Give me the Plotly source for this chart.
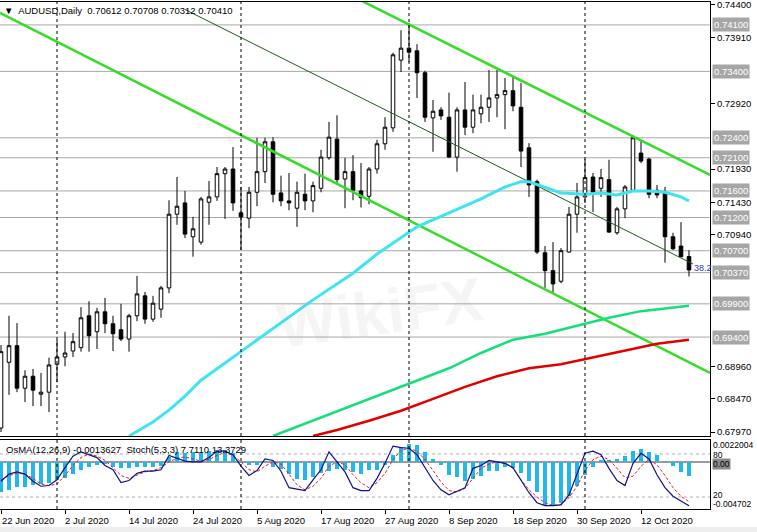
import plotly.graph_objects as go

# ---------------- data ----------------
bar_index = list(range(87))
opens = [0.6803,0.6902,0.6927,0.6863,0.6881,0.6854,0.6857,0.6899,0.6910,0.6919,
         0.6924,0.6972,0.6948,0.6978,0.6960,0.6951,0.6937,0.6972,0.7002,0.6967,
         0.6982,0.7014,0.7125,0.7142,0.7091,0.7083,0.7143,0.7151,0.7186,0.7193,
         0.7127,0.7119,0.7158,0.7189,0.7234,0.7157,0.7145,0.7134,0.7155,0.7145,
         0.7164,0.7210,0.7238,0.7178,0.7189,0.7160,0.7152,0.7193,0.7231,0.7255,
         0.7357,0.7375,0.7371,0.7338,0.7270,0.7282,0.7271,0.7211,0.7282,0.7256,
         0.7276,0.7286,0.7300,0.7305,0.7311,0.7286,0.7225,0.7174,0.7067,0.7040,
         0.7024,0.7068,0.7125,0.7151,0.7181,0.7164,0.7177,0.7097,0.7133,0.7161,
         0.7217,0.7208,0.7161,0.7158,0.7091,0.7077,0.70612]
highs = [0.6928,0.6972,0.6961,0.6890,0.6892,0.6886,0.6909,0.6936,0.6948,0.6946,
         0.6985,0.6994,0.6984,0.6999,0.6972,0.6990,0.6975,0.7032,0.7008,0.7002,
         0.7017,0.7146,0.7181,0.7160,0.7121,0.7151,0.7175,0.7196,0.7196,0.7226,
         0.7166,0.7166,0.7240,0.7240,0.7241,0.7183,0.7187,0.7174,0.7186,0.7174,
         0.7222,0.7264,0.7274,0.7210,0.7214,0.7202,0.7196,0.7237,0.7271,0.7368,
         0.7402,0.7413,0.7381,0.7341,0.7297,0.7286,0.7308,0.7286,0.7324,0.7305,
         0.7305,0.7342,0.7342,0.7330,0.7332,0.7323,0.7232,0.7177,0.7077,0.7083,
         0.7074,0.7136,0.7172,0.7208,0.7187,0.7193,0.7207,0.7136,0.7169,0.7244,
         0.7235,0.7210,0.7169,0.7166,0.7097,0.7113,0.70708]
lows = [0.6797,0.6853,0.6857,0.6842,0.6836,0.6836,0.6827,0.6872,0.6896,0.6910,
        0.6918,0.6918,0.6922,0.6946,0.6919,0.6934,0.6918,0.6964,0.6960,0.6963,
        0.6969,0.7006,0.7109,0.7089,0.7061,0.7079,0.7109,0.7145,0.7118,0.7130,
        0.7071,0.7104,0.7137,0.7172,0.7143,0.7137,0.7131,0.7106,0.7131,0.7128,
        0.7158,0.7207,0.7169,0.7134,0.7146,0.7135,0.7140,0.7186,0.7222,0.7249,
        0.7339,0.7354,0.7300,0.7264,0.7219,0.7267,0.7210,0.7189,0.7244,0.7247,
        0.7262,0.7264,0.7271,0.7253,0.7280,0.7196,0.7151,0.7065,0.7014,0.7006,
        0.7021,0.7067,0.7097,0.7142,0.7128,0.7151,0.7097,0.7094,0.7119,0.7161,
        0.7202,0.7149,0.7149,0.7052,0.7071,0.7060,0.70312]
closes = [0.6918,0.6927,0.6863,0.6881,0.6860,0.6857,0.6898,0.6910,0.6916,0.6933,
          0.6969,0.6942,0.6978,0.6960,0.6945,0.6937,0.6972,0.7005,0.6967,0.6991,
          0.7014,0.7125,0.7137,0.7095,0.7103,0.7148,0.7151,0.7186,0.7193,0.7142,
          0.7121,0.7158,0.7189,0.7234,0.7155,0.7145,0.7142,0.7158,0.7145,0.7168,
          0.7211,0.7241,0.7177,0.7189,0.7161,0.7150,0.7193,0.7231,0.7256,0.7365,
          0.7375,0.7369,0.7338,0.7271,0.7280,0.7273,0.7211,0.7282,0.7256,0.7282,
          0.7286,0.7300,0.7305,0.7311,0.7288,0.7220,0.7169,0.7068,0.7040,0.7020,
          0.7070,0.7125,0.7151,0.7180,0.7158,0.7180,0.7098,0.7133,0.7166,0.7240,
          0.7205,0.7155,0.7154,0.7091,0.7073,0.7061,0.70410]

# moving averages, read at sampled bars
ma_fast_k = [16,19,21,23,25,30,34,39,44,47,52,55,60,63,65,66,68,70,73,75,77,79,81,83,85,86]
ma_fast_v = [0.6791,0.6812,0.6830,0.6851,0.6875,0.6918,0.6952,0.6996,0.7036,0.7065,
             0.7106,0.7122,0.7148,0.7166,0.7174,0.7174,0.7166,0.7157,0.7155,0.7157,
             0.7154,0.7160,0.7160,0.7158,0.7151,0.7145]
ma_mid_k = [34,37,41,45,49,52,56,60,64,68,72,76,80,84,86]
ma_mid_v = [0.6791,0.6805,0.6823,0.6842,0.6860,0.6874,0.6893,0.6916,0.6936,0.6945,
            0.6957,0.6969,0.6979,0.6985,0.6987]
ma_slow_k = [39,42,46,50,54,58,62,66,70,74,78,82,86]
ma_slow_v = [0.6791,0.6800,0.6814,0.6829,0.6847,0.6865,0.6881,0.6893,0.6899,0.6909,
             0.6919,0.6930,0.6936]

# trend / channel lines (two anchor points each: bar index, price)
chan_upper_k = [44.0, 88.625]
chan_upper_p = [0.74528, 0.71840]
chan_lower_k = [-0.125, 88.625]
chan_lower_p = [0.74280, 0.68859]
trend_mid_k = [23.0, 86.5]
trend_mid_p = [0.74332, 0.70500]

level_prices = [0.7410, 0.7340, 0.7240, 0.7210, 0.7160, 0.7120, 0.7070, 0.7037, 0.6990, 0.6940]
scale_prices = [0.7440, 0.7391, 0.7292, 0.7193, 0.7143, 0.7094, 0.6896, 0.6847, 0.6797]
separator_bars = [7, 30, 51, 73]
date_tick_bars = [0, 8, 16, 24, 32, 40, 48, 56, 64, 72, 80]
date_tick_labels = ["22 Jun 2020", "2 Jul 2020", "14 Jul 2020", "24 Jul 2020", "5 Aug 2020",
                    "17 Aug 2020", "27 Aug 2020", "8 Sep 2020", "18 Sep 2020", "30 Sep 2020",
                    "12 Oct 2020"]

osma = [-0.0030,-0.0028,-0.0025,-0.0025,-0.0023,-0.0022,-0.0021,-0.0018,-0.0016,-0.0012,
        -0.0008,-0.0005,-0.0003,-0.0002,-0.0005,-0.0006,-0.0006,-0.0005,-0.0005,-0.0005,
        -0.0004,0.0005,0.0010,0.0009,0.0010,0.0009,0.0011,0.0012,0.0012,0.0009,
        -0.0001,-0.0003,-0.0003,0.0001,-0.0005,-0.0007,-0.0012,-0.0017,-0.0018,-0.0015,
        -0.0011,-0.0009,-0.0007,-0.0008,-0.0010,-0.0012,-0.0008,-0.0008,-0.0003,0.0007,
        0.0015,0.0018,0.0017,0.0010,0.0003,-0.0003,-0.0013,-0.0015,-0.0019,-0.0017,
        -0.0014,-0.0009,-0.0009,-0.0005,-0.0006,-0.0011,-0.0019,-0.0030,-0.0043,-0.0044,
        -0.0041,-0.0034,-0.0024,-0.0013,-0.0005,0.0002,0.0002,0.0003,0.0006,0.0011,
        0.0013,0.0010,0.0007,0.0001,-0.0004,-0.0010,-0.0013627]
stoch_main = [42,52,55,52,42,35,36,44,61,77, 83,79,75,64,58,40,43,53,56,56,
              58,78,74,70,69,69,75,84,84,79, 63,50,57,73,71,56,33,31,29,44,
              58,83,69,55,33,29,29,46,67,91, 89,88,79,60,43,30,23,28,33,60,
              64,71,69,67,61,44,26,12,8,8, 9,23,53,81,84,79,60,43,36,67,
              81,73,51,33,21,14,7.711]
stoch_signal = [44,50,53,52,46,38,36,38,50,64, 75,80,77,71,61,50,46,50,55,57,
                61,69,74,76,73,70,72,78,82,78, 69,58,55,63,69,66,52,37,30,35,
                46,63,69,65,51,40,33,40,53,72, 85,88,84,72,57,41,29,27,32,46,
                60,66,69,67,60,44,30,20,12,8, 10,19,35,57,72,77,72,60,47,49,
                63,72,65,50,33,21,13.3729]
stoch_levels = [80, 20]

# ---------------- figure ----------------
W, H = 757, 532
FONT = "Liberation Sans, Arial, sans-serif"
px_x = lambda p: p / W
px_y = lambda p: 1 - p / H
XR = [-0.125, 88.625]

fig = go.Figure()

fig.add_trace(go.Candlestick(
    x=bar_index, open=opens, high=highs, low=lows, close=closes,
    increasing=dict(line=dict(color="black", width=1), fillcolor="white"),
    decreasing=dict(line=dict(color="black", width=1), fillcolor="black"),
    whiskerwidth=0, showlegend=False, hoverinfo="skip",
    xaxis="x", yaxis="y"))

line_specs = [
    (chan_lower_k, chan_lower_p, "#36DC2A", 2.5),
    (chan_upper_k, chan_upper_p, "#36DC2A", 2.5),
    (trend_mid_k, trend_mid_p, "#1E5A1E", 1),
    (ma_fast_k, ma_fast_v, "#3EE4F2", 3),
    (ma_mid_k, ma_mid_v, "#14E07A", 2.5),
    (ma_slow_k, ma_slow_v, "#E00000", 2.5),
]
for xs, ys, col, w in line_specs:
    fig.add_trace(go.Scatter(x=xs, y=ys, mode="lines", line=dict(color=col, width=w),
                             showlegend=False, hoverinfo="skip", xaxis="x", yaxis="y"))

# indicator panel
fig.add_trace(go.Bar(x=bar_index, y=osma, marker=dict(color="#22B6EA", line=dict(width=0)),
                     width=0.42, showlegend=False, hoverinfo="skip", xaxis="x2", yaxis="y3"))
fig.add_trace(go.Scatter(x=bar_index, y=stoch_signal, mode="lines",
                         line=dict(color="#E02020", width=1, dash="3px,2px"),
                         showlegend=False, hoverinfo="skip", xaxis="x2", yaxis="y4"))
fig.add_trace(go.Scatter(x=bar_index, y=stoch_main, mode="lines",
                         line=dict(color="#10108C", width=1.2),
                         showlegend=False, hoverinfo="skip", xaxis="x2", yaxis="y4"))

shapes = []
for lv in level_prices:
    shapes.append(dict(type="line", xref="x domain", yref="y", x0=0, x1=1, y0=lv, y1=lv,
                       line=dict(color="#A8A8A8", width=1), layer="below"))
for b in separator_bars:
    for yr in ("y domain", "y3 domain"):
        shapes.append(dict(type="line", xref="x", yref=yr, x0=b, x1=b, y0=0, y1=1,
                           line=dict(color="black", width=1, dash="3px,3px"), layer="above"))
shapes.append(dict(type="line", xref="x2 domain", yref="y3", x0=0, x1=1, y0=0, y1=0,
                   line=dict(color="#7A7A7A", width=1.5), layer="below"))
for lv in stoch_levels:
    shapes.append(dict(type="line", xref="x2 domain", yref="y4", x0=0, x1=1, y0=lv, y1=lv,
                       line=dict(color="#B0B0B0", width=1, dash="3px,3px"), layer="below"))
shapes.append(dict(type="rect", xref="paper", yref="paper", x0=0, x1=1, y0=0, y1=px_y(527),
                   fillcolor="#EEEEEE", line=dict(width=0), layer="below"))

ann = []
# watermark
ann.append(dict(text="<b>WikiFX</b>", x=px_x(380), y=px_y(312), xref="paper", yref="paper",
                showarrow=False, font=dict(family=FONT, size=62, color="rgba(160,160,160,0.10)"),
                textangle=-8))
for lv in level_prices:
    ann.append(dict(text=f"{lv:.5f}", x=px_x(712), y=lv, xref="paper", yref="y",
                    xanchor="left", yanchor="middle", showarrow=False,
                    bgcolor="#A6A6A6", borderpad=1,
                    font=dict(family=FONT, size=9.5, color="white")))
ann.append(dict(text="▼  AUDUSD,Daily  0.70612 0.70708 0.70312 0.70410",
                x=px_x(2), y=px_y(10), xref="paper", yref="paper", xanchor="left",
                yanchor="middle", showarrow=False, font=dict(family=FONT, size=9.5, color="black")))
ann.append(dict(text="OsMA(12,26,9) -0.0013627  Stoch(5,3,3) 7.7110 13.3729",
                x=px_x(4), y=px_y(449), xref="paper", yref="paper", xanchor="left",
                yanchor="middle", showarrow=False, font=dict(family=FONT, size=9.5, color="black")))
ann.append(dict(text="38.2", x=px_x(692), y=px_y(268), xref="paper", yref="paper",
                xanchor="left", yanchor="middle", showarrow=False,
                font=dict(family=FONT, size=9, color="#2840C8")))
for txt, ypx, bg in [("0.0022004", 445, None), ("80", 455, None), ("0.00", 463.5, "#8A8A8A"),
                     ("20", 495, None), ("-0.004702", 504, None)]:
    a = dict(text=txt, x=px_x(712), y=px_y(ypx), xref="paper", yref="paper", xanchor="left",
             yanchor="middle", showarrow=False, borderpad=0,
             font=dict(family=FONT, size=8.5, color="black"))
    if bg:
        a["bgcolor"] = bg
    ann.append(a)
for b, lab in zip(date_tick_bars, date_tick_labels):
    ann.append(dict(text=lab, x=max(b - 0.28, -0.1), y=px_y(520), xref="x2", yref="paper",
                    xanchor="left", yanchor="middle", showarrow=False,
                    font=dict(family=FONT, size=9.5, color="black")))

xdom = [0, px_x(710)]
fig.update_layout(
    width=W, height=H, margin=dict(l=0, r=0, t=0, b=0, autoexpand=False),
    paper_bgcolor="white", plot_bgcolor="white",
    boxgap=0.36, bargap=0, showlegend=False,
    shapes=shapes, annotations=ann,
    xaxis=dict(domain=xdom, range=XR, anchor="y", showticklabels=False, showgrid=False,
               zeroline=False, showline=True, mirror=True, linecolor="black", linewidth=1,
               rangeslider=dict(visible=False), ticks=""),
    yaxis=dict(domain=[px_y(436), px_y(2)], range=[0.67910, 0.74445], anchor="x", side="right",
               tickvals=scale_prices, ticktext=[f"{v:.5f}" for v in scale_prices],
               ticks="outside", ticklen=4, tickcolor="black", ticklabeloverflow="allow",
               tickfont=dict(family=FONT, size=9.5, color="black"),
               showgrid=False, zeroline=False, showline=True, mirror=True,
               linecolor="black", linewidth=1),
    xaxis2=dict(domain=xdom, range=XR, anchor="y3", tickvals=date_tick_bars,
                showticklabels=False, ticks="outside", ticklen=4, tickcolor="black",
                showgrid=False, zeroline=False, showline=True, mirror=True,
                linecolor="black", linewidth=1),
    yaxis3=dict(domain=[px_y(509), px_y(440)], range=[-0.004702, 0.0022004], anchor="x2",
                showticklabels=False, showgrid=False, zeroline=False, showline=True,
                mirror=True, linecolor="black", linewidth=1, ticks=""),
    yaxis4=dict(overlaying="y3", range=[3.26, 99.5], anchor="x2", visible=False),
)

fig.write_html("out.html", config={"displayModeBar": False},
               post_script="document.body.style.margin='0px';document.body.style.overflow='hidden';")
